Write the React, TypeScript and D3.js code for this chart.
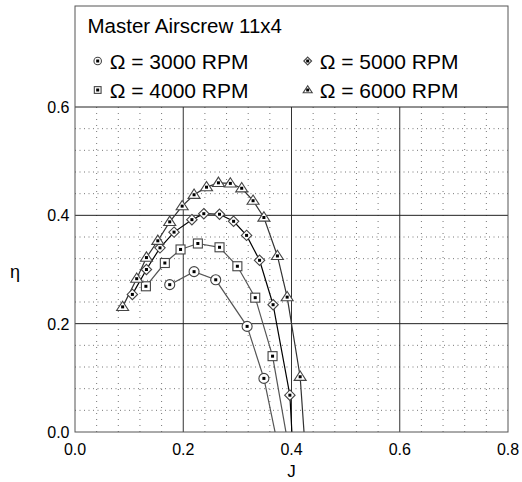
import * as d3 from "d3";

const title = "Master Airscrew 11x4";
const rpmLabels = ["Ω = 3000 RPM", "Ω = 4000 RPM", "Ω = 5000 RPM", "Ω = 6000 RPM"];

const j3000 = [0.175, 0.22, 0.26, 0.318, 0.349, 0.38];
const e3000 = [0.272, 0.296, 0.281, 0.195, 0.099, -0.05];

const j4000 = [0.131, 0.166, 0.195, 0.227, 0.267, 0.3, 0.333, 0.365, 0.395];
const e4000 = [0.269, 0.312, 0.337, 0.348, 0.341, 0.306, 0.248, 0.14, -0.03];

const j5000 = [0.106, 0.132, 0.157, 0.183, 0.216, 0.238, 0.267, 0.293, 0.317, 0.341, 0.366, 0.397, 0.41];
const e5000 = [0.254, 0.3, 0.34, 0.369, 0.392, 0.403, 0.402, 0.389, 0.363, 0.317, 0.235, 0.068, -0.17];

const j6000 = [0.088, 0.114, 0.132, 0.153, 0.175, 0.198, 0.22, 0.243, 0.265, 0.287, 0.308, 0.329, 0.349, 0.374, 0.392, 0.416, 0.435];
const e6000 = [0.231, 0.283, 0.322, 0.353, 0.388, 0.417, 0.438, 0.452, 0.46, 0.459, 0.45, 0.427, 0.396, 0.325, 0.249, 0.102, -0.17];

const xTicks = [0, 0.2, 0.4, 0.6, 0.8];
const yTicks = [0, 0.2, 0.4, 0.6];

const series = [
  { j: j3000, e: e3000, shape: "circle", line: "#555" },
  { j: j4000, e: e4000, shape: "square", line: "#555" },
  { j: j5000, e: e5000, shape: "diamond", line: "#000" },
  { j: j6000, e: e6000, shape: "triangle", line: "#333" },
];

const W = 522;
const H = 482;
const left = 75;
const right = 508;
const top = 6;
const bottom = 432;

const x = d3.scaleLinear().domain([0, 0.8]).range([left, right]);
const y = d3.scaleLinear().domain([0, 0.6]).range([bottom, 107]);

const font = "'Liberation Sans', Arial, sans-serif";

function Marker({ shape, cx, cy, s = 1 }: { shape: string; cx: number; cy: number; s?: number }) {
  const st = { fill: "#fff", stroke: "#444", strokeWidth: 1.1 };
  let el;
  if (shape === "circle") el = <circle cx={cx} cy={cy} r={5 * s} {...st} />;
  else if (shape === "square") el = <rect x={cx - 4.5 * s} y={cy - 4.5 * s} width={9 * s} height={9 * s} {...st} />;
  else if (shape === "diamond") {
    const r = 5.2 * s;
    el = <polygon points={`${cx},${cy - r} ${cx + r},${cy} ${cx},${cy + r} ${cx - r},${cy}`} {...st} />;
  } else {
    const r = 6 * s;
    el = <polygon points={`${cx},${cy - r * 0.95} ${cx + r},${cy + r * 0.6} ${cx - r},${cy + r * 0.6}`} {...st} />;
  }
  return (
    <g>
      {el}
      <rect x={cx - 1.5} y={cy - 1.5} width={3} height={3} fill="#000" />
    </g>
  );
}

export default function App() {
  const minorX = d3.range(0, 0.8001, 0.04).filter((v) => Math.abs(v / 0.2 - Math.round(v / 0.2)) > 0.01);
  const minorY = d3.range(0, 0.6001, 0.04).filter((v) => Math.abs(v / 0.2 - Math.round(v / 0.2)) > 0.01);
  const line = d3
    .line<[number, number]>()
    .x((d) => x(d[0]))
    .y((d) => y(d[1]));

  return (
    <svg width={W} height={H} style={{ position: "absolute", left: 0, top: 0, background: "#fff" }} fontFamily={font}>
      <defs>
        <clipPath id="plot">
          <rect x={left} y={top} width={right - left} height={bottom - top} />
        </clipPath>
      </defs>
      <rect width={W} height={H} fill="#fff" />

      {/* minor grid */}
      {minorX.map((v) => (
        <line key={"mx" + v} x1={x(v)} x2={x(v)} y1={y(0.6)} y2={bottom} stroke="#777" strokeDasharray="1,5" />
      ))}
      {minorY.map((v) => (
        <line key={"my" + v} x1={left} x2={right} y1={y(v)} y2={y(v)} stroke="#777" strokeDasharray="1,3.5" />
      ))}
      {/* major grid */}
      {[0.2, 0.4, 0.6].map((v) => (
        <line key={"Mx" + v} x1={x(v)} x2={x(v)} y1={y(0.6)} y2={bottom} stroke="#333" />
      ))}
      {[0.2, 0.4, 0.6].map((v) => (
        <line key={"My" + v} x1={left} x2={right} y1={y(v)} y2={y(v)} stroke="#222" />
      ))}

      {/* series */}
      <g clipPath="url(#plot)">
        {series.map((s, i) => (
          <path
            key={i}
            d={line(s.j.map((v, k) => [v, s.e[k]]) as [number, number][]) || ""}
            fill="none"
            stroke={s.line}
            strokeWidth={1.2}
          />
        ))}
      </g>
      {series.map((s, i) => (
        <g key={"m" + i}>
          {s.j.map((v, k) =>
            s.e[k] >= 0 ? <Marker key={k} shape={s.shape} cx={x(v)} cy={y(s.e[k])} /> : null
          )}
        </g>
      ))}

      {/* frame */}
      <rect x={left} y={top} width={right - left} height={bottom - top} fill="none" stroke="#555" />

      {/* legend */}
      <text x={87.5} y={33} fontSize={20.5} fill="#000">
        {title}
      </text>
      {rpmLabels.map((t, i) => {
        const col = Math.floor(i / 2);
        const row = i % 2;
        const mx = col === 0 ? 97.7 : 307.7;
        const my = row === 0 ? 61 : 90;
        return (
          <g key={t}>
            <Marker shape={series[i].shape} cx={mx} cy={my} s={0.75} />
            <text x={mx + 12} y={my + 7.5} fontSize={21} fill="#000">
              {t}
            </text>
          </g>
        );
      })}

      {/* axes labels */}
      {xTicks.map((v) => (
        <text key={"xt" + v} x={x(v)} y={455} fontSize={16} textAnchor="middle" fill="#000">
          {v.toFixed(1)}
        </text>
      ))}
      {yTicks.map((v) => (
        <text key={"yt" + v} x={69.5} y={y(v) + 6} fontSize={16} textAnchor="end" fill="#000">
          {v.toFixed(1)}
        </text>
      ))}
      <text x={(left + right) / 2} y={477} fontSize={17} textAnchor="middle" fill="#000">
        J
      </text>
      <text x={15} y={278} fontSize={18} textAnchor="middle" fill="#000">
        η
      </text>
    </svg>
  );
}
